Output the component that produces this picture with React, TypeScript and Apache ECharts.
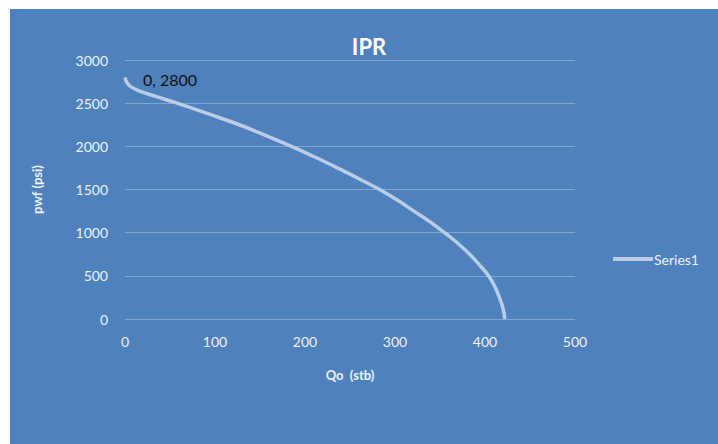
import React, { useEffect, useRef } from "react";
import * as echarts from "echarts";

const qo = [0, 2, 6, 15, 35, 58, 92, 127, 156, 185, 211, 236, 260, 283, 303, 321, 339, 355, 370, 383, 394, 404, 411, 416, 420, 422];
const pwf = [2800, 2740, 2695, 2645, 2576, 2500, 2378, 2250, 2128, 2000, 1876, 1750, 1625, 1500, 1375, 1250, 1125, 1000, 875, 750, 625, 500, 375, 250, 125, 0];
const xTicks = [0, 100, 200, 300, 400, 500];
const yTicks = [0, 500, 1000, 1500, 2000, 2500, 3000];
const seriesName = "Series1";
const titleText = "IPR";

export default function App() {
  const ref = useRef<HTMLDivElement>(null);
  useEffect(() => {
    if (!ref.current) return;
    const chart = echarts.init(ref.current, undefined, { renderer: "svg" });
    const font = "Lato, 'Open Sans', sans-serif";
    const txt = "#eef2f8";
    chart.setOption({
      animation: false,
      backgroundColor: "#ffffff",
      graphic: [
        { type: "rect", z: -10, shape: { x: 10, y: 9, width: 708, height: 435 }, style: { fill: "#4f81bd" } },
      ],
      title: {
        text: titleText,
        left: 364,
        textAlign: "center",
        top: 30,
        textStyle: { color: "#ffffff", fontSize: 22, fontWeight: "bold", fontFamily: font },
      },
      legend: {
        orient: "vertical",
        left: 608,
        top: 247,
        itemWidth: 40,
        itemHeight: 4,
        itemGap: 4,
        icon: "rect",
        textStyle: { color: txt, fontSize: 14, fontFamily: font, padding: [0, 0, 0, -4] },
        data: [{ name: seriesName, itemStyle: { color: "#b9cde5", opacity: 1 } }],
      },
      grid: { left: 125, right: 143, top: 60, bottom: 125, containLabel: false },
      xAxis: {
        type: "value",
        min: xTicks[0],
        max: xTicks[xTicks.length - 1],
        interval: 100,
        name: "Qo  (stb)",
        nameLocation: "middle",
        nameGap: 49,
        nameTextStyle: { color: txt, fontSize: 13, fontWeight: "bold", fontFamily: font },
        axisLine: { show: false },
        axisTick: { show: false },
        splitLine: { show: false },
        axisLabel: { color: txt, fontSize: 14, fontFamily: font, margin: 15, formatter: (v: number) => String(v) },
      },
      yAxis: {
        type: "value",
        min: yTicks[0],
        max: yTicks[yTicks.length - 1],
        interval: 500,
        name: "pwf (psi)",
        nameLocation: "middle",
        nameGap: 82,
        nameRotate: 90,
        nameTextStyle: { color: txt, fontSize: 13, fontWeight: "bold", fontFamily: font },
        axisLine: { show: false },
        axisTick: { show: false },
        splitLine: { lineStyle: { color: "#83a5d3", width: 1 } },
        axisLabel: { color: txt, fontSize: 14, fontFamily: font, margin: 17, formatter: (v: number) => String(v) },
      },
      series: [
        {
          name: seriesName,
          type: "line",
          smooth: 0.4,
          showSymbol: true,
          symbol: "circle",
          symbolSize: 0.01,
          lineStyle: { color: "#b9cde5", width: 3.5 },
          itemStyle: { color: "#b9cde5" },
          data: qo.map((q, i) => {
            const p: any = { value: [q, pwf[i]] };
            if (i === 0) {
              p.label = {
                show: true,
                position: "right",
                distance: 18,
                offset: [0, 2],
                formatter: `${q}, ${pwf[i]}`,
                color: "#111111",
                opacity: 1,
                fontSize: 16,
                fontFamily: font,
              };
            }
            return p;
          }),
        },
      ],
    });
    return () => chart.dispose();
  }, []);
  return <div ref={ref} style={{ position: "fixed", left: 0, top: 0, width: 718, height: 444 }} />;
}
